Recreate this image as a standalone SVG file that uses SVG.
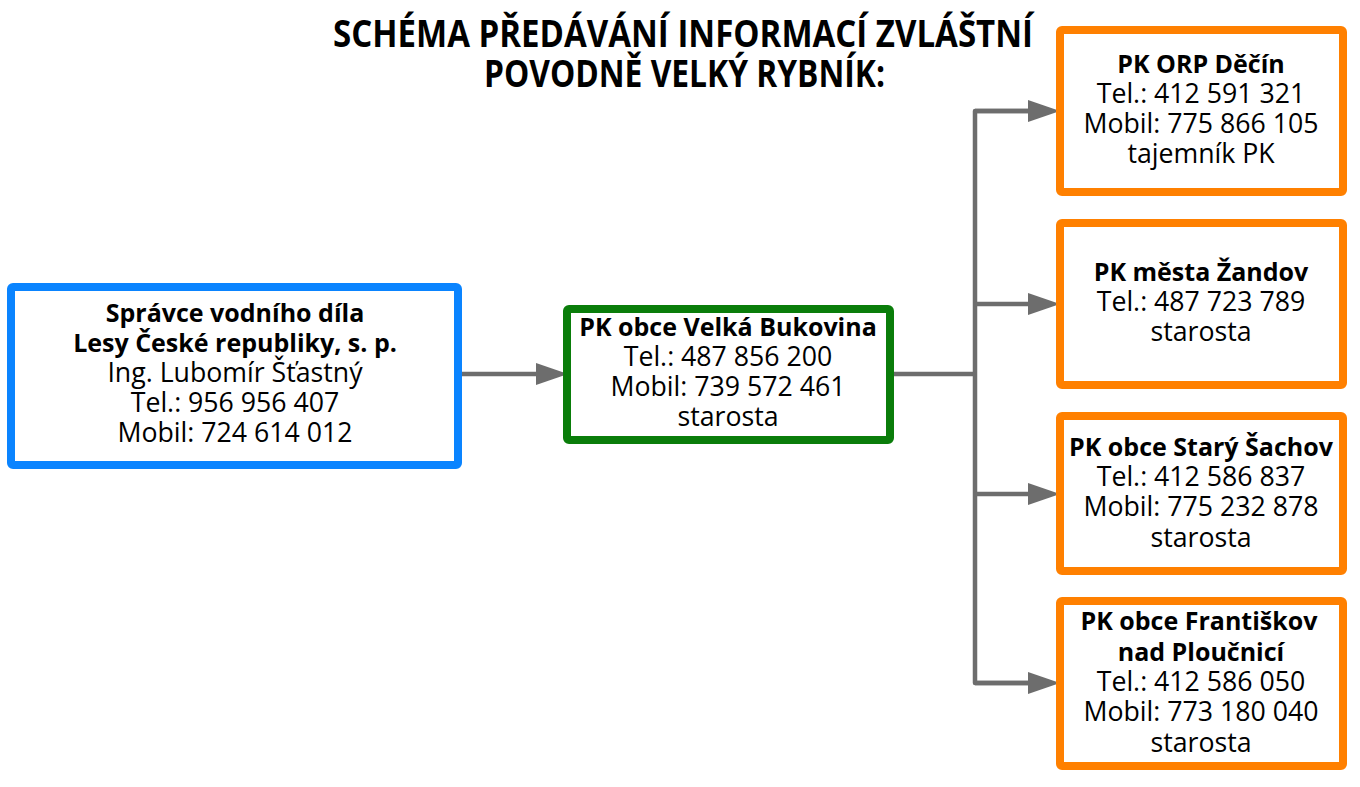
<svg xmlns="http://www.w3.org/2000/svg" width="1360" height="787" viewBox="0 0 1360 787">
<style>
  .box { fill: #ffffff; stroke-width: 8; }
  .blue { stroke: #0a84ff; }
  .green { stroke: #0a7d0a; }
  .orange { stroke: #ff8000; }
  text { font-family: "Open Sans", "Noto Sans", "Liberation Sans", sans-serif; fill: #000000; text-anchor: middle; }
  .t { font-size: 26.7px; }
  .b { font-size: 25px; font-weight: bold; }
  .title { font-size: 37px; font-weight: bold; }
  .conn { fill: none; stroke: #6d6d6d; stroke-width: 4.5; stroke-linejoin: round; }
</style>
<defs>
  <marker id="arrow" markerUnits="userSpaceOnUse" viewBox="0 0 32 22" refX="0" refY="11" markerWidth="32" markerHeight="22" orient="auto">
    <path d="M0,0 L32,11 L0,22 Z" fill="#6d6d6d"/>
  </marker>
</defs>
<rect width="1360" height="787" fill="#ffffff"/>

<g id="title">
  <text class="title" x="683" y="47" textLength="700" lengthAdjust="spacingAndGlyphs">SCHÉMA PŘEDÁVÁNÍ INFORMACÍ ZVLÁŠTNÍ</text>
  <text class="title" x="684.5" y="87" textLength="401" lengthAdjust="spacingAndGlyphs">POVODNĚ VELKÝ RYBNÍK:</text>
</g>

<g id="connectors">
  <path class="conn" d="M458,374 H536" marker-end="url(#arrow)"/>
  <path class="conn" d="M890,374 H975"/>
  <path class="conn" d="M1028,111 H975 V683 H1028"/>
  <path class="conn" d="M975,111 H1028" marker-end="url(#arrow)"/>
  <path class="conn" d="M975,304 H1028" marker-end="url(#arrow)"/>
  <path class="conn" d="M975,494 H1028" marker-end="url(#arrow)"/>
  <path class="conn" d="M975,683 H1028" marker-end="url(#arrow)"/>
</g>

<g id="node-spravce">
  <rect class="box blue" x="11" y="287" width="447" height="178" rx="2"/>
  <text class="b" x="235" y="322">Správce vodního díla</text>
  <text class="b" x="235" y="352">Lesy České republiky, s. p.</text>
  <text class="t" x="235" y="382">Ing. Lubomír Šťastný</text>
  <text class="t" x="235" y="412">Tel.: 956 956 407</text>
  <text class="t" x="235" y="442">Mobil: 724 614 012</text>
</g>

<g id="node-velka-bukovina">
  <rect class="box green" x="567" y="309" width="323" height="131" rx="2"/>
  <text class="b" x="728" y="336">PK obce Velká Bukovina</text>
  <text class="t" x="728" y="366">Tel.: 487 856 200</text>
  <text class="t" x="728" y="396">Mobil: 739 572 461</text>
  <text class="t" x="728" y="426">starosta</text>
</g>

<g id="node-orp-decin">
  <rect class="box orange" x="1060" y="30" width="283" height="162" rx="2"/>
  <text class="b" x="1201" y="73">PK ORP Děčín</text>
  <text class="t" x="1201" y="103">Tel.: 412 591 321</text>
  <text class="t" x="1201" y="133">Mobil: 775 866 105</text>
  <text class="t" x="1201" y="163">tajemník PK</text>
</g>

<g id="node-zandov">
  <rect class="box orange" x="1060" y="223" width="283" height="162" rx="2"/>
  <text class="b" x="1201" y="281">PK města Žandov</text>
  <text class="t" x="1201" y="311">Tel.: 487 723 789</text>
  <text class="t" x="1201" y="341">starosta</text>
</g>

<g id="node-stary-sachov">
  <rect class="box orange" x="1060" y="416" width="283" height="155" rx="2"/>
  <text class="b" x="1201" y="456">PK obce Starý Šachov</text>
  <text class="t" x="1201" y="486">Tel.: 412 586 837</text>
  <text class="t" x="1201" y="516">Mobil: 775 232 878</text>
  <text class="t" x="1201" y="547">starosta</text>
</g>

<g id="node-frantiskov">
  <rect class="box orange" x="1060" y="601" width="283" height="165" rx="2"/>
  <text class="b" x="1199" y="630">PK obce Františkov</text>
  <text class="b" x="1201" y="661">nad Ploučnicí</text>
  <text class="t" x="1201" y="691">Tel.: 412 586 050</text>
  <text class="t" x="1201" y="721">Mobil: 773 180 040</text>
  <text class="t" x="1201" y="752">starosta</text>
</g>
</svg>
